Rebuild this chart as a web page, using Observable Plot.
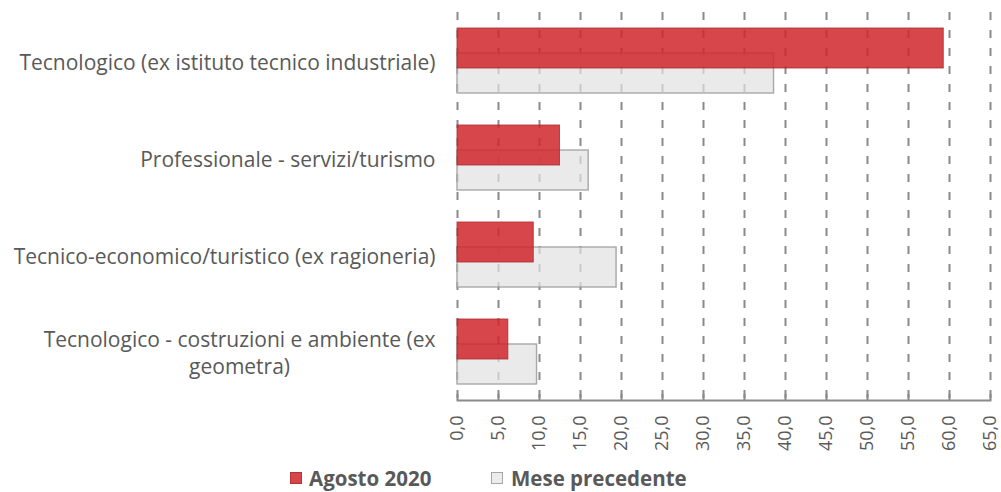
<!DOCTYPE html>
<html>
<head>
<meta charset="utf-8">
<script src="https://cdn.jsdelivr.net/npm/d3@7"></script>
<script src="https://cdn.jsdelivr.net/npm/@observablehq/plot@0.6"></script>
<style>
  html, body { margin: 0; padding: 0; background: #fff; }
  #chart svg { display: block; }
  #legend { position: relative; width: 1001px; height: 30px; font-family: "Open Sans", sans-serif; font-weight: bold; font-size: 20.5px; color: #595959; }
  #legend .sw { position: absolute; width: 12px; height: 12px; box-sizing: border-box; }
  #legend .lb { position: absolute; line-height: 24px; white-space: nowrap; }
</style>
</head>
<body>
<div id="chart"></div>
<div id="legend"></div>
<script>
const categories = [
  "Tecnologico (ex istituto tecnico industriale)",
  "Professionale - servizi/turismo",
  "Tecnico-economico/turistico (ex ragioneria)",
  "Tecnologico - costruzioni e ambiente (ex geometra)"
];
const categoryLabels = [
  "Tecnologico (ex istituto tecnico industriale)",
  "Professionale - servizi/turismo",
  "Tecnico-economico/turistico (ex ragioneria)",
  "Tecnologico - costruzioni e ambiente (ex\ngeometra)"
];
const seriesNames = ["Agosto 2020", "Mese precedente"];
const agosto2020 = [59.3, 12.5, 9.3, 6.2];
const mesePrecedente = [38.6, 16.0, 19.4, 9.7];
const xTicks = [0, 5, 10, 15, 20, 25, 30, 35, 40, 45, 50, 55, 60, 65];

const rows = categories.map((c, i) => ({cat: c, ago: agosto2020[i], prev: mesePrecedente[i]}));
const fmt = d => d.toFixed(1).replace(".", ",");
const labelOf = d => categoryLabels[categories.indexOf(d)];

const W = 1001, H = 462, mt = 12, mb = 62;
const plotH = H - mt - mb;

const chart = Plot.plot({
  width: W,
  height: H,
  marginLeft: 457,
  marginRight: 11,
  marginTop: mt,
  marginBottom: mb,
  style: {fontFamily: "'Open Sans', sans-serif", fontSize: "18px", color: "#595959", background: "#fff"},
  x: {domain: [0, 65]},
  y: {domain: categories, padding: 0},
  marks: [
    Plot.ruleX(xTicks, {stroke: "#8a8a8a", strokeWidth: 2, strokeDasharray: "8,10"}),
    Plot.barX(rows, {x: "prev", y: "cat", insetTop: 41, insetBottom: 16, fill: "#e2e2e2", fillOpacity: 0.72, stroke: "#9a9a9a", strokeWidth: 1.4, strokeOpacity: 0.85}),
    Plot.barX(rows, {x: "ago", y: "cat", insetTop: 16, insetBottom: 41, fill: "#d0262c", fillOpacity: 0.85, stroke: "#a82a30", strokeWidth: 1, strokeOpacity: 0.8}),
    Plot.ruleX(xTicks, {stroke: "#8a8a8a", strokeWidth: 2, insetTop: plotH - 6}),
    Plot.frame({anchor: "bottom", stroke: "#8a8a8a", strokeWidth: 2}),
    Plot.axisX({ticks: xTicks, tickFormat: fmt, tickRotate: -90, tickSize: 0, tickPadding: 15, label: null, fontSize: 18}),
    Plot.axisY({tickSize: 0, tickPadding: 22, tickFormat: labelOf, label: null, fontSize: 21, lineHeight: 1.3})
  ]
});
document.getElementById("chart").append(chart);

// center wrapped lines of multi-line category labels (as in the original)
chart.querySelectorAll("g[aria-label='y-axis tick label'] text").forEach(t => {
  const spans = t.querySelectorAll("tspan");
  if (spans.length > 1) {
    let w = 0;
    spans.forEach(s => { w = Math.max(w, s.getComputedTextLength()); });
    t.setAttribute("text-anchor", "middle");
    spans.forEach(s => s.setAttribute("x", -w / 2));
  }
});

// legend
const legend = document.getElementById("legend");
const swatches = [
  {left: 290, bg: "#d9464a", border: "#b0343a"},
  {left: 491, bg: "#ececec", border: "#a6a6a6"}
];
const labelLeft = [309, 511];
seriesNames.forEach((name, i) => {
  const sw = document.createElement("div");
  sw.className = "sw";
  sw.style.left = swatches[i].left + "px";
  sw.style.top = "10px";
  sw.style.background = swatches[i].bg;
  sw.style.border = "1px solid " + swatches[i].border;
  legend.append(sw);
  const lb = document.createElement("div");
  lb.className = "lb";
  lb.style.left = labelLeft[i] + "px";
  lb.style.top = "4px";
  lb.textContent = name;
  legend.append(lb);
});
</script>
</body>
</html>
